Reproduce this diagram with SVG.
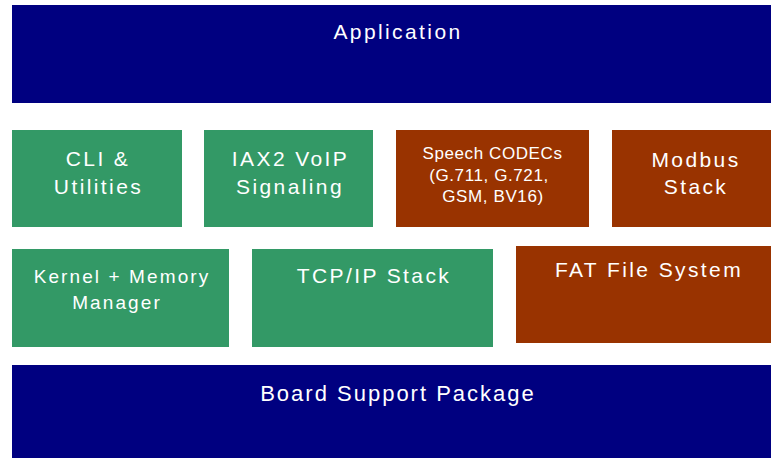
<svg xmlns="http://www.w3.org/2000/svg" width="771" height="458" viewBox="0 0 771 458">
<style>
.navy{fill:#000080}
.green{fill:#339966}
.brown{fill:#993300}
text{font-family:"Liberation Sans",Arial,sans-serif;fill:#ffffff;text-anchor:middle}
.t20{font-size:21px;letter-spacing:2.4px}
.t16{font-size:17px;letter-spacing:0.6px}
.t18{font-size:19px;letter-spacing:2.1px}
</style>
<rect width="771" height="458" fill="#ffffff"/>
<g id="application">
<rect class="navy" x="12" y="5" width="770" height="98"/>
<text class="t20" x="398" y="38.5">Application</text>
</g>
<g id="cli">
<rect class="green" x="12" y="130" width="170" height="97"/>
<text class="t20" x="98" y="166">CLI &amp;</text>
<text class="t20" x="98.5" y="194">Utilities</text>
</g>
<g id="iax2">
<rect class="green" x="204" y="130" width="169" height="97"/>
<text class="t20" x="290.5" y="166">IAX2 VoIP</text>
<text class="t20" x="290" y="194">Signaling</text>
</g>
<g id="codecs">
<rect class="brown" x="396" y="130" width="193" height="97"/>
<text class="t16" x="492.5" y="159">Speech CODECs</text>
<text class="t16" x="489" y="180.5">(G.711, G.721,</text>
<text class="t16" x="493" y="202">GSM, BV16)</text>
</g>
<g id="modbus">
<rect class="brown" x="612" y="130" width="166" height="97"/>
<text class="t20" x="696" y="166.5">Modbus</text>
<text class="t20" x="696" y="194">Stack</text>
</g>
<g id="kernel">
<rect class="green" x="12" y="249" width="217" height="98"/>
<text class="t18" x="122" y="282.5">Kernel + Memory</text>
<text class="t18" x="117" y="308.5">Manager</text>
</g>
<g id="tcpip">
<rect class="green" x="252" y="249" width="241" height="98"/>
<text class="t20" x="374" y="283">TCP/IP Stack</text>
</g>
<g id="fat">
<rect class="brown" x="516" y="246" width="264" height="97"/>
<text class="t20" x="649" y="277">FAT File System</text>
</g>
<g id="bsp">
<rect class="navy" x="12" y="365" width="770" height="100"/>
<text x="398" y="400.5" style="font-size:22px;letter-spacing:2px">Board Support Package</text>
</g>
<g id="connectors"></g>
</svg>
